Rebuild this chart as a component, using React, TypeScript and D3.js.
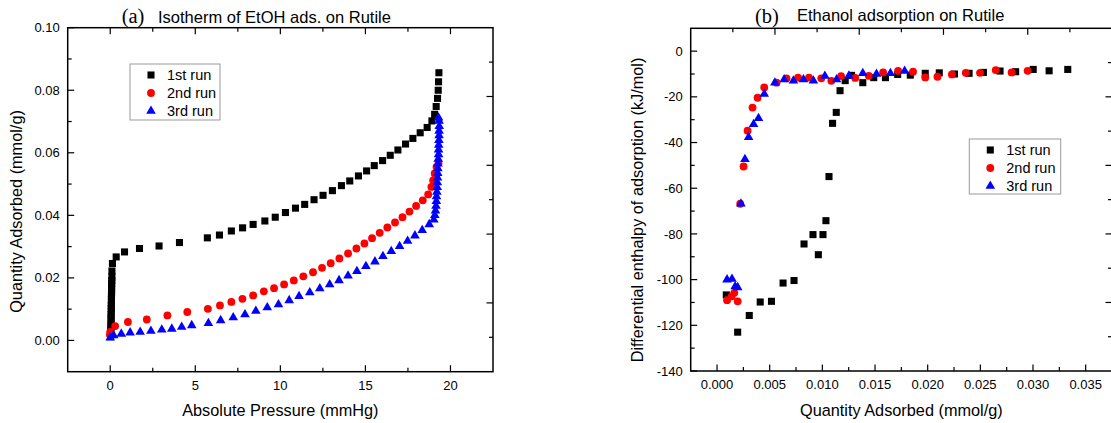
import * as d3 from "d3";

const W = 1111;
const H = 423;
const SANS = "'Liberation Sans', Arial, Helvetica, sans-serif";
const SERIF = "'Liberation Serif', 'Times New Roman', serif";

const runNames = ["1st run", "2nd run", "3rd run"];
const runColors = ["#000000", "#ff0000", "#0000ff"];
const runShapes = [d3.symbolSquare, d3.symbolCircle, d3.symbolTriangle];
const runSizes = [50, 48, 40];

// (a) isotherm: [absolute pressure (mmHg), quantity adsorbed (mmol/g)]
const isoRun1: [number, number][] = [
  [0.02, 0.0012], [0.03, 0.0022], [0.03, 0.0032], [0.04, 0.0042], [0.04, 0.0052],
  [0.05, 0.0062], [0.05, 0.0072], [0.05, 0.0082], [0.06, 0.0092], [0.06, 0.0102],
  [0.06, 0.0112], [0.07, 0.0122], [0.07, 0.0132], [0.07, 0.0142], [0.08, 0.0152],
  [0.08, 0.0162], [0.08, 0.0172], [0.09, 0.0182], [0.09, 0.0192], [0.1, 0.0204],
  [0.1, 0.0222], [0.13, 0.0246], [0.35, 0.0267], [0.84, 0.0283], [1.72, 0.0294],
  [2.87, 0.0302], [4.07, 0.0313], [5.71, 0.0328], [6.42, 0.0337], [7.12, 0.035],
  [7.78, 0.036], [8.4, 0.0371], [9.09, 0.0382], [9.7, 0.0394], [10.3, 0.0409],
  [10.89, 0.0423], [11.43, 0.0435], [11.98, 0.045], [12.51, 0.0464], [13.06, 0.0479],
  [13.59, 0.0495], [14.08, 0.051], [14.59, 0.0526], [15.07, 0.0542], [15.52, 0.0559],
  [16.01, 0.0575], [16.46, 0.0592], [16.91, 0.0609], [17.36, 0.0628], [17.79, 0.0646],
  [18.22, 0.0664], [18.63, 0.0681], [18.91, 0.0702], [19.07, 0.0723], [19.16, 0.0748],
  [19.24, 0.0774], [19.28, 0.08], [19.3, 0.0827], [19.32, 0.0856],
];
const isoRun2: [number, number][] = [
  [-0.02, 0.0018], [0.0, 0.0027], [0.29, 0.0046], [1.04, 0.0059], [2.15, 0.0067],
  [3.36, 0.008], [4.53, 0.0091], [5.74, 0.0101], [6.45, 0.0112], [7.12, 0.0123],
  [7.77, 0.0133], [8.4, 0.0144], [9.03, 0.0157], [9.63, 0.0167], [10.22, 0.0179],
  [10.79, 0.0192], [11.35, 0.0205], [11.92, 0.0218], [12.45, 0.0232], [12.96, 0.0247],
  [13.47, 0.0262], [13.98, 0.0278], [14.47, 0.0294], [14.94, 0.031], [15.39, 0.0327],
  [15.84, 0.0344], [16.29, 0.0361], [16.74, 0.0377], [17.18, 0.0394], [17.59, 0.0412],
  [17.98, 0.043], [18.37, 0.0448], [18.69, 0.0467], [18.88, 0.0491], [18.98, 0.0512],
  [19.07, 0.0534], [19.18, 0.0555], [19.3, 0.0568],
];
const isoRun3: [number, number][] = [
  [0.0, 0.0009], [0.2, 0.0016], [0.65, 0.0021], [1.17, 0.0025], [1.76, 0.0027],
  [2.39, 0.003], [3.03, 0.0034], [3.62, 0.0037], [4.2, 0.0043], [4.79, 0.0048],
  [5.77, 0.0055], [6.49, 0.0064], [7.23, 0.0073], [7.92, 0.0083], [8.56, 0.0094],
  [9.23, 0.0105], [9.89, 0.0115], [10.52, 0.0128], [11.1, 0.0141], [11.73, 0.0153],
  [12.32, 0.0166], [12.9, 0.0179], [13.45, 0.0192], [13.98, 0.0207], [14.5, 0.0221],
  [15.03, 0.0237], [15.56, 0.0252], [16.03, 0.0269], [16.52, 0.0285], [17.01, 0.0301],
  [17.48, 0.0318], [17.91, 0.0335], [18.34, 0.0352], [18.75, 0.0371], [19.02, 0.0386],
  [19.08, 0.04], [19.12, 0.0415], [19.15, 0.043], [19.17, 0.0445], [19.18, 0.046],
  [19.2, 0.0475], [19.22, 0.049], [19.23, 0.0505], [19.24, 0.052], [19.25, 0.0535],
  [19.26, 0.055], [19.27, 0.0565], [19.28, 0.058], [19.3, 0.0595], [19.3, 0.061],
  [19.31, 0.0625], [19.32, 0.064], [19.33, 0.0655], [19.33, 0.067], [19.34, 0.0685],
  [19.33, 0.0702], [19.3, 0.0712],
];

const isoXTicks = [0, 5, 10, 15, 20];
const isoXMinor = [2.5, 7.5, 12.5, 17.5];
const isoYTicks = [0, 0.02, 0.04, 0.06, 0.08, 0.1];
const isoYMinor = [0.01, 0.03, 0.05, 0.07, 0.09];

// (b) differential enthalpy: [quantity adsorbed (mmol/g), enthalpy (kJ/mol)]
const dhRun1: [number, number][] = [
  [0.00088, -106.7], [0.00196, -123], [0.00306, -115.7], [0.0041, -109.8],
  [0.00517, -109.5], [0.00627, -101.5], [0.00731, -100.4], [0.00826, -84.4],
  [0.00911, -80.3], [0.00962, -89.1], [0.01006, -80.3], [0.01034, -74.2],
  [0.01063, -54.9], [0.01097, -31.6], [0.01132, -26.8], [0.01168, -17.3],
  [0.01217, -12.9], [0.01277, -10.6], [0.01384, -13.8], [0.01488, -11.6],
  [0.01599, -11.6], [0.01715, -10.2], [0.01835, -10.5], [0.01977, -9.7],
  [0.0211, -9.5], [0.02254, -10], [0.02393, -9.7], [0.02529, -9.3],
  [0.02687, -8.7], [0.02835, -9], [0.03002, -8], [0.03153, -8.6], [0.0333, -8],
];
const dhRun2: [number, number][] = [
  [0.00095, -109], [0.00139, -107.3], [0.00164, -105.8], [0.00196, -109.5],
  [0.0022, -66.8], [0.00252, -50.5], [0.0029, -34.8], [0.00337, -24.7],
  [0.00385, -20.4], [0.00448, -15.9], [0.00565, -13.8], [0.0066, -11.9],
  [0.00769, -11.6], [0.00873, -11.6], [0.0099, -11.9], [0.01085, -13],
  [0.01178, -10.9], [0.01312, -11.7], [0.01441, -10.8], [0.01577, -9.3],
  [0.01719, -8.6], [0.01861, -9], [0.01977, -11.5], [0.02093, -11.2],
  [0.0223, -10.2], [0.02362, -9.5], [0.02497, -9.5], [0.02646, -8.3],
  [0.02797, -9.3], [0.02949, -8.6],
];
const dhRun3: [number, number][] = [
  [0.00095, -100], [0.00142, -99.7], [0.00172, -103], [0.00196, -103.4],
  [0.00227, -66.8], [0.00265, -47.3], [0.003, -37.7], [0.00347, -32],
  [0.00394, -29.4], [0.00448, -18.8], [0.00549, -13.8], [0.00637, -12.4],
  [0.00725, -13], [0.0082, -12.4], [0.00915, -13], [0.01024, -10.9],
  [0.01135, -12.4], [0.01252, -10.8], [0.01384, -9.7], [0.01514, -10],
  [0.01646, -9.7], [0.01781, -8.7],
];

const dhXTicks = [0, 0.005, 0.01, 0.015, 0.02, 0.025, 0.03, 0.035];
const dhXMinor = [0.0025, 0.0075, 0.0125, 0.0175, 0.0225, 0.0275, 0.0325];
const dhYTicks = [0, -20, -40, -60, -80, -100, -120, -140];
const dhYMinor = [-10, -30, -50, -70, -90, -110, -130];

// mirror axes (top / right) are split into ten equal divisions
const mirrorSteps = [1, 2, 3, 4, 5, 6, 7, 8, 9];

type Box = { l: number; r: number; t: number; b: number };

type PanelProps = {
  box: Box;
  xDomain: [number, number];
  yDomain: [number, number];
  xTicks: number[];
  xMinor: number[];
  yTicks: number[];
  yMinor: number[];
  xFmt: (v: number) => string;
  yFmt: (v: number) => string;
  series: [number, number][][];
  xTitle: string;
  yTitle: string;
  yTitleX: number;
  yTitleY: number;
  tag: string;
  tagX: number;
  title: string;
  titleX: number;
  titleY: number;
  legend: { x: number; y: number; w: number; h: number };
  topMirror: boolean;
};

function Panel(p: PanelProps) {
  const { box } = p;
  const x = d3.scaleLinear().domain(p.xDomain).range([box.l, box.r]);
  const y = d3.scaleLinear().domain(p.yDomain).range([box.b, box.t]);
  const mx = d3.scaleLinear().domain([0, 10]).range([box.l, box.r]);
  const my = d3.scaleLinear().domain([0, 10]).range([box.b, box.t]);
  const major = 6.5;
  const minor = 4;

  return (
    <g fontFamily={SANS}>
      {/* titles */}
      <text x={p.tagX} y={23} fontFamily={SERIF} fontSize={20.5}>{p.tag}</text>
      <text x={p.titleX} y={p.titleY} fontSize={16.5}>{p.title}</text>

      {/* markers */}
      {p.series.map((pts, i) => {
        const sym = d3.symbol().type(runShapes[i]).size(runSizes[i])();
        return (
          <g key={i} fill={runColors[i]}>
            {pts.map((d, j) => (
              <path key={j} d={sym ?? ""} transform={`translate(${x(d[0])},${y(d[1])})`} />
            ))}
          </g>
        );
      })}

      {/* frame */}
      <rect x={box.l} y={box.t} width={box.r - box.l} height={box.b - box.t}
        fill="none" stroke="#000" strokeWidth={1.5} />

      {/* ticks */}
      <g stroke="#000" strokeWidth={1.2}>
        {p.xTicks.map((v) => (
          <line key={`bx${v}`} x1={x(v)} x2={x(v)} y1={box.b} y2={box.b - major} />
        ))}
        {p.xMinor.map((v) => (
          <line key={`bm${v}`} x1={x(v)} x2={x(v)} y1={box.b} y2={box.b - minor} />
        ))}
        {p.yTicks.map((v) => (
          <line key={`ly${v}`} x1={box.l} x2={box.l + major} y1={y(v)} y2={y(v)} />
        ))}
        {p.yMinor.map((v) => (
          <line key={`lm${v}`} x1={box.l} x2={box.l + minor} y1={y(v)} y2={y(v)} />
        ))}
        {mirrorSteps.map((s) => (
          <line key={`r${s}`} x1={box.r} x2={box.r - (s % 2 === 0 ? major : minor)}
            y1={my(s)} y2={my(s)} />
        ))}
        {p.topMirror
          ? mirrorSteps.map((s) => (
              <line key={`t${s}`} x1={mx(s)} x2={mx(s)} y1={box.t}
                y2={box.t + (s % 2 === 0 ? major : minor)} />
            ))
          : [...p.xTicks.map((v) => (
              <line key={`tx${v}`} x1={x(v)} x2={x(v)} y1={box.t} y2={box.t + major} />
            )), ...p.xMinor.map((v) => (
              <line key={`tm${v}`} x1={x(v)} x2={x(v)} y1={box.t} y2={box.t + minor} />
            ))]}
      </g>

      {/* tick labels */}
      <g fontSize={13} fill="#000">
        {p.xTicks.map((v) => (
          <text key={`xl${v}`} x={x(v)} y={box.b + 18} textAnchor="middle">{p.xFmt(v)}</text>
        ))}
        {p.yTicks.map((v) => (
          <text key={`yl${v}`} x={box.l - 8} y={y(v) + 4.6} textAnchor="end">{p.yFmt(v)}</text>
        ))}
      </g>

      {/* axis titles */}
      <text x={(box.l + box.r) / 2} y={416} textAnchor="middle" fontSize={16.3}>{p.xTitle}</text>
      <text transform={`translate(${p.yTitleX},${p.yTitleY}) rotate(-90)`} textAnchor="middle"
        fontSize={16.3}>{p.yTitle}</text>

      {/* legend */}
      <g transform={`translate(${p.legend.x},${p.legend.y})`}>
        <rect width={p.legend.w} height={p.legend.h} fill="#fff" stroke="#999" strokeWidth={1} />
        {runNames.map((name, i) => (
          <g key={name} transform={`translate(0,${11 + i * 18})`}>
            <path d={d3.symbol().type(runShapes[i]).size(runSizes[i])() ?? ""}
              transform="translate(21,0)" fill={runColors[i]} />
            <text x={37} y={5} fontSize={14.5}>{name}</text>
          </g>
        ))}
      </g>
    </g>
  );
}

export default function App() {
  return (
    <div style={{ position: "absolute", left: 0, top: 0, width: W, height: H, background: "#fff" }}>
      <svg width={W} height={H} viewBox={`0 0 ${W} ${H}`}>
        <rect width={W} height={H} fill="#fff" />
        <Panel
          box={{ l: 67.7, r: 493, t: 27.7, b: 371.7 }}
          xDomain={[-2.5, 22.5]}
          yDomain={[-0.01, 0.1]}
          xTicks={isoXTicks}
          xMinor={isoXMinor}
          yTicks={isoYTicks}
          yMinor={isoYMinor}
          xFmt={(v) => String(v)}
          yFmt={(v) => v.toFixed(2)}
          series={[isoRun1, isoRun2, isoRun3]}
          xTitle="Absolute Pressure (mmHg)"
          yTitle="Quantity Adsorbed (mmol/g)"
          yTitleX={22}
          yTitleY={211.5}
          tag="(a)"
          tagX={121.7}
          title="Isotherm of EtOH ads. on Rutile"
          titleX={158}
          titleY={22.7}
          legend={{ x: 130, y: 64, w: 90, h: 56 }}
          topMirror={false}
        />
        <Panel
          box={{ l: 690.7, r: 1112, t: 28.3, b: 371 }}
          xDomain={[-0.0025, 0.0375]}
          yDomain={[-140, 10]}
          xTicks={dhXTicks}
          xMinor={dhXMinor}
          yTicks={dhYTicks}
          yMinor={dhYMinor}
          xFmt={(v) => v.toFixed(3)}
          yFmt={(v) => String(v)}
          series={[dhRun1, dhRun2, dhRun3]}
          xTitle="Quantity Adsorbed (mmol/g)"
          yTitle="Differential enthalpy of adsorption (kJ/mol)"
          yTitleX={643}
          yTitleY={210}
          tag="(b)"
          tagX={755}
          title="Ethanol adsorption on Rutile"
          titleX={797}
          titleY={20.7}
          legend={{ x: 969.3, y: 139, w: 91.4, h: 55 }}
          topMirror={true}
        />
      </svg>
    </div>
  );
}
